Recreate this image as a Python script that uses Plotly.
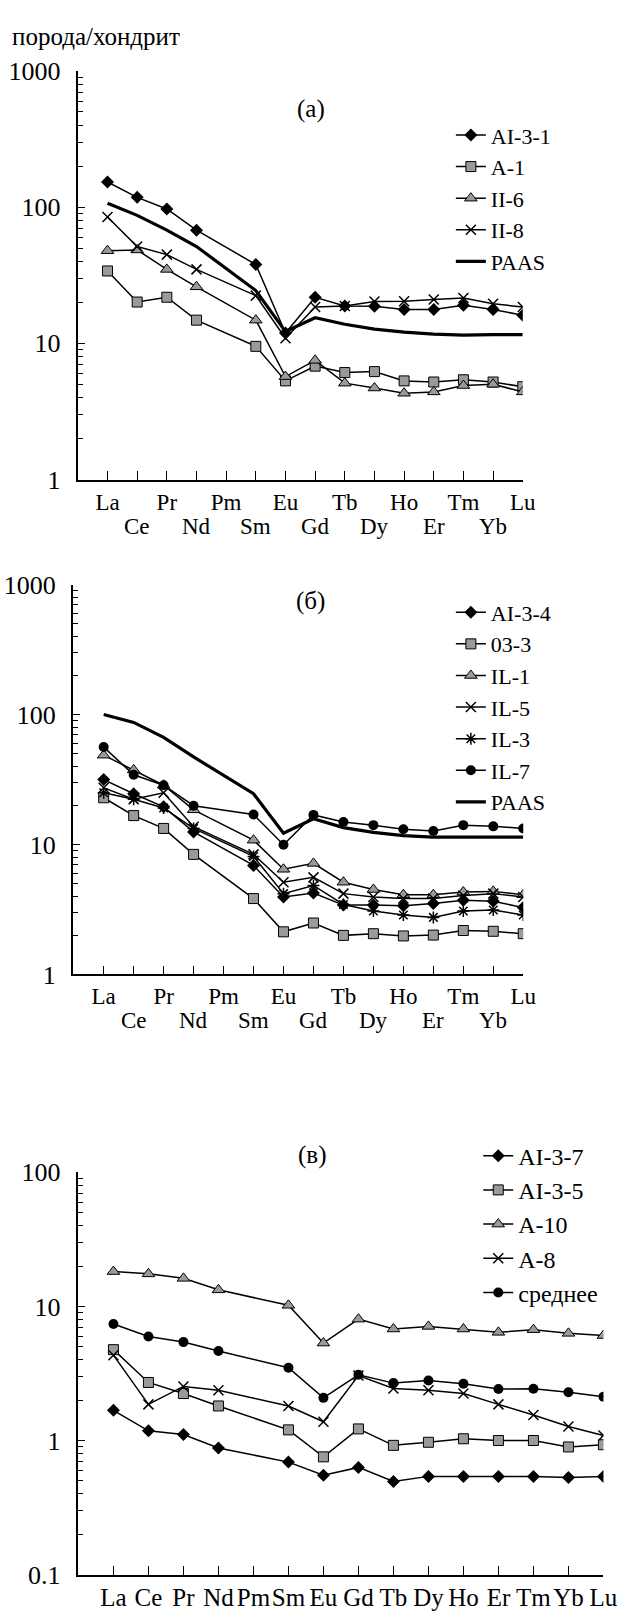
import plotly.graph_objects as go

ELEMENTS = ["La", "Ce", "Pr", "Nd", "Pm", "Sm", "Eu", "Gd", "Tb", "Dy", "Ho", "Er", "Tm", "Yb", "Lu"]
REE = ["La", "Ce", "Pr", "Nd", "Sm", "Eu", "Gd", "Tb", "Dy", "Ho", "Er", "Tm", "Yb", "Lu"]

# panel (а)
A_AI31 = [153, 118, 97, 67.8, 37.9, 11.9, 21.8, 18.8, 18.7, 17.7, 17.7, 19.0, 17.7, 16.1]
A_A1 = [34.0, 20.1, 21.8, 14.8, 9.5, 5.3, 6.8, 6.1, 6.2, 5.3, 5.2, 5.4, 5.2, 4.8]
A_II6 = [47.9, 48.5, 34.9, 26.0, 14.8, 5.7, 7.5, 5.1, 4.7, 4.3, 4.4, 4.9, 5.0, 4.4]
A_II8 = [84.6, 51.4, 44.8, 34.9, 22.4, 10.9, 18.5, 18.8, 20.3, 20.4, 21.0, 21.5, 19.5, 18.5]
A_PAAS = [106.7, 87, 67.8, 51.4, 24.4, 12.2, 15.4, 13.8, 12.7, 12.1, 11.7, 11.5, 11.6, 11.6]

# panel (б)
B_AI34 = [31.6, 24.6, 19.5, 12.5, 6.9, 3.95, 4.24, 3.42, 3.42, 3.38, 3.52, 3.73, 3.66, 3.27]
B_033 = [22.9, 16.7, 13.3, 8.4, 3.84, 2.13, 2.49, 2.0, 2.06, 1.98, 2.01, 2.18, 2.15, 2.06]
B_IL1 = [48.7, 37.5, 28.6, 18.5, 10.8, 6.45, 7.16, 5.13, 4.51, 4.11, 4.11, 4.31, 4.36, 4.11]
B_IL5 = [27.3, 22.3, 25.0, 13.7, 8.4, 5.13, 5.59, 4.19, 3.95, 3.84, 3.84, 4.06, 4.19, 3.95]
B_IL3 = [25.0, 22.3, 19.1, 13.3, 8.1, 4.19, 4.84, 3.46, 3.08, 2.87, 2.75, 3.08, 3.13, 2.87]
B_IL7 = [56.2, 34.4, 28.6, 19.9, 17.0, 9.95, 16.9, 14.9, 14.1, 13.1, 12.7, 14.1, 13.8, 13.3]
B_PAAS = [100, 87, 66.8, 47.2, 24.6, 12.2, 15.8, 13.5, 12.4, 11.7, 11.4, 11.4, 11.4, 11.4]

# panel (в)
C_AI37 = [1.68, 1.18, 1.11, 0.88, 0.69, 0.55, 0.63, 0.495, 0.54, 0.54, 0.54, 0.54, 0.53, 0.54]
C_AI35 = [4.76, 2.71, 2.24, 1.81, 1.20, 0.755, 1.22, 0.92, 0.97, 1.03, 1.0, 1.0, 0.895, 0.93]
C_A10 = [18.2, 17.5, 16.2, 13.3, 10.2, 5.33, 8.04, 6.79, 7.1, 6.79, 6.41, 6.71, 6.3, 6.07]
C_A8 = [4.33, 1.86, 2.53, 2.37, 1.81, 1.38, 3.05, 2.44, 2.37, 2.24, 1.86, 1.55, 1.27, 1.09]
C_MEAN = [7.39, 5.96, 5.42, 4.65, 3.49, 2.08, 3.09, 2.68, 2.80, 2.65, 2.42, 2.43, 2.29, 2.12]

FONT = "Liberation Serif, Times New Roman, DejaVu Serif, serif"
GRAY = "#9a9a9a"
W, H = 637, 1620

STY = {
    "diamond": dict(symbol="diamond", size=10, color="black", line=dict(color="black", width=0)),
    "square": dict(symbol="square", size=10, color=GRAY, line=dict(color="black", width=1)),
    "triangle": dict(symbol="triangle-up", size=11, color=GRAY, line=dict(color="black", width=1)),
    "x": dict(symbol="x-thin-open", size=10, color="black", line=dict(color="black", width=1.5)),
    "asterisk": dict(symbol="asterisk-open", size=10, color="black", line=dict(color="black", width=1.5)),
    "circle": dict(symbol="circle", size=10, color="black", line=dict(color="black", width=0)),
}

fig = go.Figure()


def add(name, vals, style, xa, ya, leg):
    if style == "paas":
        fig.add_trace(go.Scatter(x=REE, y=vals, name=name, mode="lines",
                                 line=dict(color="black", width=3.2),
                                 xaxis=xa, yaxis=ya, legend=leg, legendgroup=name))
    else:
        fig.add_trace(go.Scatter(x=REE, y=vals, name=name, mode="lines+markers",
                                 line=dict(color="black", width=1.5), marker=STY[style],
                                 xaxis=xa, yaxis=ya, legend=leg, legendgroup=name))


add("AI-3-1", A_AI31, "diamond", "x", "y", "legend")
add("A-1", A_A1, "square", "x", "y", "legend")
add("II-6", A_II6, "triangle", "x", "y", "legend")
add("II-8", A_II8, "x", "x", "y", "legend")
add("PAAS", A_PAAS, "paas", "x", "y", "legend")

add("AI-3-4", B_AI34, "diamond", "x2", "y2", "legend2")
add("03-3", B_033, "square", "x2", "y2", "legend2")
add("IL-1", B_IL1, "triangle", "x2", "y2", "legend2")
add("IL-5", B_IL5, "x", "x2", "y2", "legend2")
add("IL-3", B_IL3, "asterisk", "x2", "y2", "legend2")
add("IL-7", B_IL7, "circle", "x2", "y2", "legend2")
add("PAAS ", B_PAAS, "paas", "x2", "y2", "legend2")

add("AI-3-7", C_AI37, "diamond", "x3", "y3", "legend3")
add("AI-3-5", C_AI35, "square", "x3", "y3", "legend3")
add("A-10", C_A10, "triangle", "x3", "y3", "legend3")
add("A-8", C_A8, "x", "x3", "y3", "legend3")
add("среднее", C_MEAN, "circle", "x3", "y3", "legend3")


def px_x(p):
    return p / W


def px_y(p):
    return 1 - p / H


def xaxis_main(dom, rng, texts, size, standoff, anchor):
    return dict(domain=dom, range=rng, type="category", categoryorder="array", categoryarray=ELEMENTS,
                tickmode="array", tickvals=ELEMENTS, ticktext=texts, anchor=anchor, tickangle=0,
                showgrid=False, zeroline=False, tickfont=dict(family=FONT, size=size, color="black"),
                ticklabelstandoff=standoff, showline=True, linecolor="black", linewidth=1.5,
                ticks="inside", ticklen=9, tickwidth=1.2, tickcolor="black")


def yaxis(dom, rng, anchor):
    return dict(domain=dom, range=rng, type="log", anchor=anchor, showgrid=False, zeroline=False,
                showline=True, linecolor="black", linewidth=1.5, ticks="inside", ticklen=8,
                tickwidth=1.2, tickcolor="black", dtick=1, tickformat="~g",
                tickfont=dict(family=FONT, size=26, color="black"), ticklabelstandoff=10,
                minor=dict(ticks="inside", ticklen=6, tickwidth=1, tickcolor="black", dtick="D1", showgrid=False))


upper = [e if i % 2 == 0 else "" for i, e in enumerate(ELEMENTS)]
lower = [e for i, e in enumerate(ELEMENTS) if i % 2 == 1]

dom_a = [px_x(79.3), px_x(534.5)]
dom_b = [px_x(74.3), px_x(535)]
dom_c = [px_x(79.3), px_x(617)]

fig.update_layout(
    width=W, height=H, margin=dict(l=0, r=0, t=0, b=0),
    paper_bgcolor="white", plot_bgcolor="white",
    font=dict(family=FONT, color="black"),
    xaxis=xaxis_main(dom_a, [-1.01, 14], upper, 23, 1, "y"),
    yaxis=yaxis([px_y(474), px_y(58)], [0, 3], "x"),
    xaxis2=xaxis_main(dom_b, [-1.035, 14], upper, 23, 0, "y2"),
    yaxis2=yaxis([px_y(978), px_y(581)], [0, 3], "x2"),
    xaxis3=xaxis_main(dom_c, [-1.025, 14], ELEMENTS, 25, 0, "y3"),
    yaxis3=yaxis([px_y(1589), px_y(1179.5)], [-1, 2], "x3"),
    legend=dict(x=px_x(461), y=px_y(102), xanchor="left", yanchor="top", bgcolor="rgba(0,0,0,0)",
                font=dict(family=FONT, size=22, color="black"), tracegroupgap=0),
    legend2=dict(x=px_x(461), y=px_y(588), xanchor="left", yanchor="top", bgcolor="rgba(0,0,0,0)",
                 font=dict(family=FONT, size=22, color="black"), tracegroupgap=0),
    legend3=dict(x=px_x(489), y=px_y(1140), xanchor="left", yanchor="top", bgcolor="rgba(0,0,0,0)",
                 font=dict(family=FONT, size=24, color="black"), tracegroupgap=0),
    showlegend=True,
)

# second row of element labels (Ce, Nd, Sm, ...) for panels (а) and (б)
for xref, ypix in (("x", 521.5), ("x2", 1025)):
    for e in lower:
        fig.add_annotation(text=e, x=e, xref=xref, y=px_y(ypix), yref="paper",
                           xanchor="center", yanchor="middle", showarrow=False,
                           font=dict(family=FONT, size=23, color="black"))

ann = [
    dict(text="порода/хондрит", x=px_x(10), y=px_y(23), xanchor="left", yanchor="middle", size=25),
    dict(text="(а)", x=px_x(318), y=px_y(97), xanchor="center", yanchor="middle", size=25),
    dict(text="(б)", x=px_x(317), y=px_y(598), xanchor="center", yanchor="middle", size=25),
    dict(text="(в)", x=px_x(318.5), y=px_y(1162), xanchor="center", yanchor="middle", size=25),
]
for a in ann:
    fig.add_annotation(text=a["text"], x=a["x"], y=a["y"], xref="paper", yref="paper",
                       xanchor=a["xanchor"], yanchor=a["yanchor"], showarrow=False,
                       font=dict(family=FONT, size=a["size"], color="black"))

fig.write_html("out.html", config={"displayModeBar": False},
               post_script="document.body.style.margin='0px';document.body.style.overflow='hidden';")
